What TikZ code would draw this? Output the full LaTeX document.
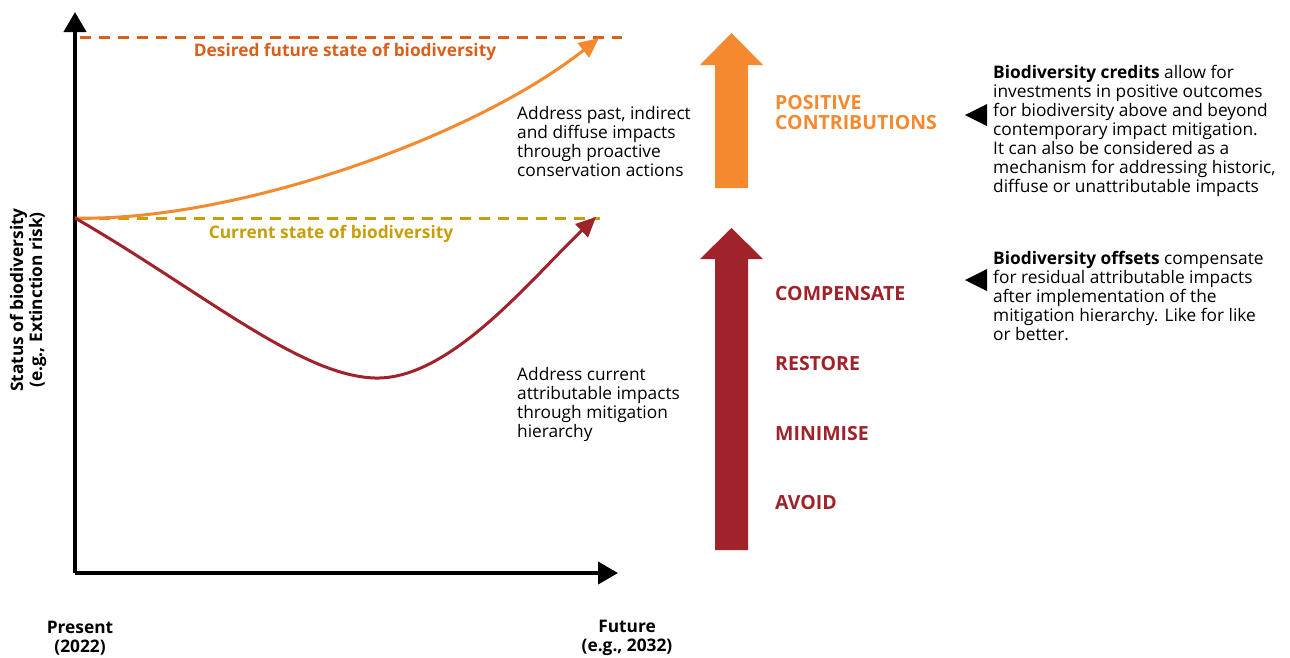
\documentclass[tikz,border=0pt]{standalone}
\usepackage{fontspec}
\setmainfont{Open Sans}
\usetikzlibrary{arrows.meta}
\definecolor{desiredc}{HTML}{D8601C}
\definecolor{currentc}{HTML}{C79E08}
\definecolor{orangec}{HTML}{F5892F}
\definecolor{redc}{HTML}{A0222A}

\begin{document}
\begin{tikzpicture}
[
    x=1pt, y=-1pt,
    every node/.style={inner sep=0pt, font=\fontsize{17.3}{19}\selectfont},
    axis/.style={line width=4pt, -{Triangle[length=20pt, width=22pt]}},
    level line/.style={line width=3pt, dash pattern=on 11pt off 8pt},
    curve/.style={line width=3pt, -{Triangle[length=20pt, width=18pt]}},
    head/.style={font=\bfseries\fontsize{17.3}{19}\selectfont},
    stage/.style={font=\bfseries\fontsize{19.5}{20}\selectfont, text=redc, anchor=west},
    note/.style={align=left, anchor=north west},
    pointer/.style={fill=black},
]
\useasboundingbox (0,0) rectangle (1290,657);

% axes
\coordinate (o) at (75,573);
\coordinate (ytop) at (75,12);
\coordinate (xend) at (618,573);
\draw[axis] (o) -- (ytop);
\draw[axis] (o) -- (xend);

% levels
\coordinate (start) at (75,218);
\coordinate (d0) at (80,37);
\coordinate (d1) at (622,37);
\coordinate (c0) at (80,218);
\coordinate (c1) at (600,218);
\draw[level line, desiredc] (d0) -- (d1);
\draw[level line, currentc] (c0) -- (c1);
\node[head, text=desiredc] (desired) at (345,52) {Desired future state of biodiversity};
\node[head, text=currentc] (current) at (331,234) {Current state of biodiversity};

% trajectories
\coordinate (otip) at (599,38);
\coordinate (low) at (375,378);
\coordinate (rtip) at (596,217);
\draw[curve, orangec] (start) .. controls (230,222) and (470,140) .. (otip);
\draw[curve, redc] (start) .. controls (200,290) and (300,376) .. (low)
    .. controls (450,380) and (530,280) .. (rtip);

% block arrows
\fill[orangec] (715,188) -- (715,65) -- (700,65) -- (731.5,33) -- (763,65)
    -- (748,65) -- (748,188) -- cycle;
\fill[redc] (715,550) -- (715,259) -- (700,259) -- (731.5,228) -- (763,259)
    -- (748,259) -- (748,550) -- cycle;

% labels
\node[note] (past) at (517,106) {Address past, indirect\\and diffuse impacts\\through proactive\\conservation actions};
\node[note] (attrib) at (517,367) {Address current\\attributable impacts\\through mitigation\\hierarchy};
\node[font=\bfseries\fontsize{19.5}{20}\selectfont, text=orangec, align=left, anchor=west]
    (positive) at (775,113) {POSITIVE\\CONTRIBUTIONS};
\node[stage] (compensate) at (775,294) {COMPENSATE};
\node[stage] (restore) at (775,364) {RESTORE};
\node[stage] (minimise) at (775,434) {MINIMISE};
\node[stage] (avoid) at (775,503) {AVOID};

% pointers and notes
\fill[pointer] (987,104) -- (987,126) -- (965,115) -- cycle;
\fill[pointer] (987,269) -- (987,291) -- (965,280) -- cycle;
\node[note] (credits) at (993,65) {\textbf{Biodiversity credits} allow for\\investments in positive outcomes\\for biodiversity above and beyond\\contemporary impact mitigation.\\It can also be considered as a\\mechanism for addressing historic,\\diffuse or unattributable impacts};
\node[note] (offsets) at (993,251) {\textbf{Biodiversity offsets} compensate\\for residual attributable impacts\\after implementation of the\\mitigation hierarchy. Like for like\\or better.};

% axis texts
\node[head, rotate=90, align=center] (ylabel) at (28,300) {Status of biodiversity\\(e.g., Extinction risk)};
\node[head, align=center] (present) at (80,638) {Present\\(2022)};
\node[head, align=center] (future) at (627,638) {Future\\(e.g., 2032)};
\end{tikzpicture}
\end{document}
